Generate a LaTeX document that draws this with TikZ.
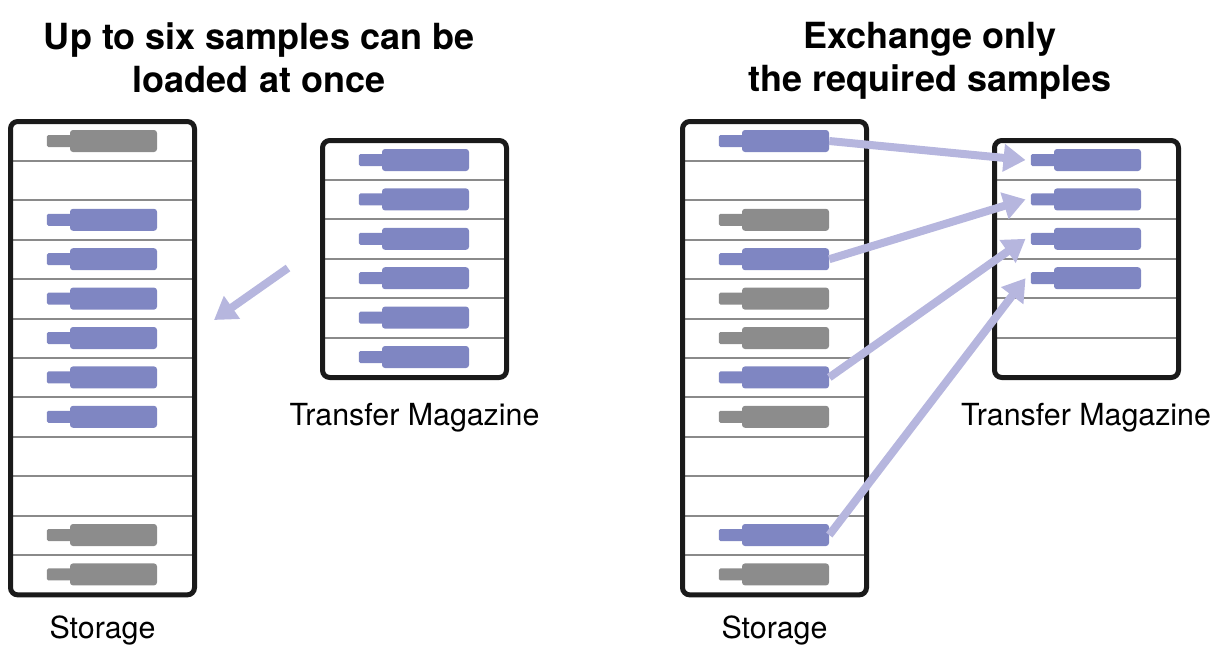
\documentclass[tikz,border=0pt]{standalone}
\usepackage{fontspec}
\setmainfont{TeX Gyre Heros}
\usetikzlibrary{arrows.meta}
\definecolor{smpblue}{RGB}{127,134,194}
\definecolor{smpgray}{RGB}{140,140,140}
\definecolor{xferlav}{RGB}{182,182,222}
\definecolor{seprule}{RGB}{138,138,138}
\definecolor{framek}{RGB}{26,26,26}
\tikzset{
  rackframe/.style={draw=framek, line width=3.75pt, rounded corners=5.5pt, minimum width=138pt, inner sep=0pt},
  sepline/.style={draw=seprule, line width=1.5pt},
  smpbody/.style={rectangle, rounded corners=2.25pt, minimum width=65.25pt, minimum height=16.5pt, inner sep=0pt},
  smpstem/.style={rectangle, rounded corners=1.2pt, minimum width=19pt, minimum height=9pt, inner sep=0pt},
  xfer/.style={draw=xferlav, line width=6pt, -{Triangle[length=16.5pt,width=20pt]}},
  headtxt/.style={font=\fontsize{27}{32.25}\selectfont\bfseries, align=center, inner sep=0pt, anchor=north},
  labtxt/.style={font=\fontsize{22.8}{27}\selectfont, inner sep=0pt, anchor=base}
}
% rack: name, left edge, top edge, number of slots
\newcommand{\rack}[4]{%
  \foreach \k in {2,...,#4}
    \draw[sepline] ({#2+4},{#3+2.5+(\k-1)*39.4}) -- ({#2+185},{#3+2.5+(\k-1)*39.4});
  \node[rackframe, minimum height=#4*29.55pt+0.45pt] (#1) at ({#2+94.5},{#3+2.5+(#4*39.4+0.6)/2}) {};
}
% sample holder: name, x, y, colour
\newcommand{\samp}[4]{%
  \node[smpbody, fill=#4] (#1) at (#2,#3) {};
  \node[smpstem, fill=#4, anchor=east] (#1s) at ([xshift=2pt]#1.west) {};
}
\begin{document}
\begin{tikzpicture}[x=0.75pt,y=0.75pt,yscale=-1,xscale=1]
\useasboundingbox (0,0) rectangle (1220,654);
% Left: storage and full magazine
\rack{lsto}{8}{119}{12}
\rack{lmag}{320}{138}{6}
\foreach \i in {1,11,12} {\pgfmathsetmacro\yy{141+(\i-1)*39.4}\samp{ls\i}{113.5}{\yy}{smpgray}}
\foreach \i in {3,...,8} {\pgfmathsetmacro\yy{141+(\i-1)*39.4}\samp{ls\i}{113.5}{\yy}{smpblue}}
\foreach \i in {1,...,6} {\pgfmathsetmacro\yy{160+(\i-1)*39.4}\samp{lm\i}{425.5}{\yy}{smpblue}}
% Right: storage and partly filled magazine
\rack{rsto}{680}{119}{12}
\rack{rmag}{992}{138}{6}
\foreach \i in {3,5,6,8,12} {\pgfmathsetmacro\yy{141+(\i-1)*39.4}\samp{rs\i}{785.5}{\yy}{smpgray}}
\foreach \i in {1,4,7,11} {\pgfmathsetmacro\yy{141+(\i-1)*39.4}\samp{rs\i}{785.5}{\yy}{smpblue}}
\foreach \i in {1,...,4} {\pgfmathsetmacro\yy{160+(\i-1)*39.4}\samp{rm\i}{1097.5}{\yy}{smpblue}}
% Arrows
\coordinate (lfrom) at (288,268);
\coordinate (lto) at (214,320);
\draw[xfer] (lfrom) -- (lto);
\draw[xfer] (rs1.east) -- ([xshift=-3.75pt]rm1s.west);
\draw[xfer] (rs4.east) -- ([xshift=-3.75pt]rm2s.west);
\draw[xfer] (rs7.east) -- ([xshift=-3.75pt]rm3s.west);
\draw[xfer] (rs11.east) -- ([xshift=-3.75pt]rm4s.west);
% Text Node
\node[headtxt] (lhead) at (259,22) {Up to six samples can be\\loaded at once};
% Text Node
\node[headtxt] (rhead) at (930,22) {Exchange only\\the required samples};
% Text Node
\node[labtxt] (lstolab) at (102.5,638) {Storage};
% Text Node
\node[labtxt] (lmaglab) at (414.5,425) {Transfer Magazine};
% Text Node
\node[labtxt] (rstolab) at (774.5,638) {Storage};
% Text Node
\node[labtxt] (rmaglab) at (1086,425) {Transfer Magazine};
\end{tikzpicture}
\end{document}
